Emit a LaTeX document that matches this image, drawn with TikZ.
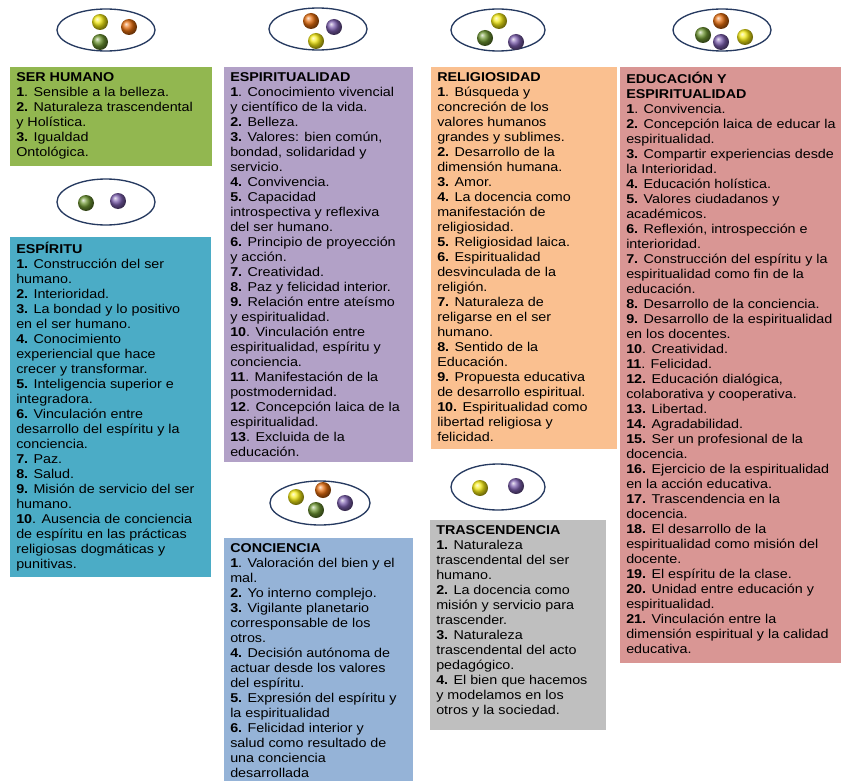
\documentclass[tikz,border=0pt]{standalone}
\usepackage{fontspec}
\setmainfont{Liberation Sans}[FakeStretch=1.12]
\definecolor{ovalline}{RGB}{38,58,96}
\definecolor{verde}{RGB}{146,183,80}
\definecolor{turquesa}{RGB}{75,172,198}
\definecolor{lila}{RGB}{178,161,199}
\definecolor{durazno}{RGB}{250,192,144}
\definecolor{rosa}{RGB}{217,150,148}
\definecolor{celeste}{RGB}{149,179,215}
\definecolor{gris}{RGB}{191,191,191}
\definecolor{bola1}{RGB}{245,235,20}
\definecolor{bola2}{RGB}{230,110,15}
\definecolor{bola3}{RGB}{110,150,50}
\definecolor{bola4}{RGB}{125,95,175}
\begin{document}
\begin{tikzpicture}[x=0.75pt,y=-0.75pt,
  txt/.style={anchor=north west,align=left,inner sep=0pt,
    font=\fontsize{9.6}{11.25}\selectfont},
  oval/.style={draw=ovalline,line width=1pt,fill=white}]
\useasboundingbox (0,0) rectangle (841,781);
\draw [oval] (106,30) ellipse (49 and 21);
\shade [ball color=bola1] (100,22) circle (8);
\shade [ball color=bola2] (129,27) circle (8);
\shade [ball color=bola3] (100,42) circle (8);
\draw [oval] (318,29) ellipse (49 and 21);
\shade [ball color=bola2] (311,21) circle (8);
\shade [ball color=bola4] (334,27) circle (8);
\shade [ball color=bola1] (316,41) circle (8);
\draw [oval] (498,30) ellipse (47 and 21);
\shade [ball color=bola1] (499,21) circle (8);
\shade [ball color=bola3] (485,38) circle (8);
\shade [ball color=bola4] (516,42) circle (8);
\draw [oval] (722,30) ellipse (49 and 21);
\shade [ball color=bola2] (721,21) circle (8);
\shade [ball color=bola3] (703,35) circle (8);
\shade [ball color=bola4] (721,42) circle (8);
\shade [ball color=bola1] (745,37) circle (8);
\draw [oval] (106,202) ellipse (49 and 23);
\shade [ball color=bola3] (86,203) circle (8);
\shade [ball color=bola4] (118,201) circle (8);
\draw [oval] (320,503) ellipse (50 and 22);
\shade [ball color=bola1] (296,497) circle (8);
\shade [ball color=bola2] (323,490) circle (8);
\shade [ball color=bola3] (316,510) circle (8);
\shade [ball color=bola4] (345,503) circle (8);
\draw [oval] (498,487) ellipse (47 and 23);
\shade [ball color=bola1] (480,488) circle (8);
\shade [ball color=bola4] (516,486) circle (8);
\fill [verde] (10,67) rectangle (212,166);
\node [txt] (serhumano) at (16,72) {\textbf{SER HUMANO}\\
\textbf{1}. Sensible a la belleza.\\
\textbf{2.} Naturaleza trascendental\\
y Holística.\\
\textbf{3.} Igualdad\\
Ontológica.};
\fill [turquesa] (10,237) rectangle (211,577);
\node [txt] (espiritu) at (16,242) {\textbf{ESPÍRITU}\\
\textbf{1.} Construcción del ser\\
humano.\\
\textbf{2.} Interioridad.\\
\textbf{3.} La bondad y lo positivo\\
en el ser humano.\\
\textbf{4.} Conocimiento\\
experiencial que hace\\
crecer y transformar.\\
\textbf{5.} Inteligencia superior e\\
integradora.\\
\textbf{6.} Vinculación entre\\
desarrollo del espíritu y la\\
conciencia.\\
\textbf{7.} Paz.\\
\textbf{8.} Salud.\\
\textbf{9.} Misión de servicio del ser\\
humano.\\
\textbf{10}. Ausencia de conciencia\\
de espíritu en las prácticas\\
religiosas dogmáticas y\\
punitivas.};
\fill [lila] (224,67) rectangle (413,462);
\node [txt] (espiritualidad) at (230,72) {\textbf{ESPIRITUALIDAD}\\
\textbf{1}. Conocimiento vivencial\\
y científico de la vida.\\
\textbf{2.} Belleza.\\
\textbf{3.} Valores: bien común,\\
bondad, solidaridad y\\
servicio.\\
\textbf{4.} Convivencia.\\
\textbf{5.} Capacidad\\
introspectiva y reflexiva\\
del ser humano.\\
\textbf{6.} Principio de proyección\\
y acción.\\
\textbf{7.} Creatividad.\\
\textbf{8.} Paz y felicidad interior.\\
\textbf{9.} Relación entre ateísmo\\
y espiritualidad.\\
\textbf{10}. Vinculación entre\\
espiritualidad, espíritu y\\
conciencia.\\
\textbf{11}. Manifestación de la\\
postmodernidad.\\
\textbf{12}. Concepción laica de la\\
espiritualidad.\\
\textbf{13}. Excluida de la\\
educación.};
\fill [durazno] (431,67) rectangle (617,449);
\node [txt] (religiosidad) at (437,72) {\textbf{RELIGIOSIDAD}\\
\textbf{1}. Búsqueda y\\
concreción de los\\
valores humanos\\
grandes y sublimes.\\
\textbf{2.} Desarrollo de la\\
dimensión humana.\\
\textbf{3.} Amor.\\
\textbf{4.} La docencia como\\
manifestación de\\
religiosidad.\\
\textbf{5.} Religiosidad laica.\\
\textbf{6.} Espiritualidad\\
desvinculada de la\\
religión.\\
\textbf{7.} Naturaleza de\\
religarse en el ser\\
humano.\\
\textbf{8.} Sentido de la\\
Educación.\\
\textbf{9.} Propuesta educativa\\
de desarrollo espiritual.\\
\textbf{10.} Espiritualidad como\\
libertad religiosa y\\
felicidad.};
\fill [rosa] (620,67) rectangle (841,663);
\node [txt] (educacion) at (626,72) {\textbf{EDUCACIÓN Y}\\
\textbf{ESPIRITUALIDAD}\\
\textbf{1}. Convivencia.\\
\textbf{2.} Concepción laica de educar la\\
espiritualidad.\\
\textbf{3.} Compartir experiencias desde\\
la Interioridad.\\
\textbf{4.} Educación holística.\\
\textbf{5.} Valores ciudadanos y\\
académicos.\\
\textbf{6.} Reflexión, introspección e\\
interioridad.\\
\textbf{7.} Construcción del espíritu y la\\
espiritualidad como fin de la\\
educación.\\
\textbf{8.} Desarrollo de la conciencia.\\
\textbf{9.} Desarrollo de la espiritualidad\\
en los docentes.\\
\textbf{10}. Creatividad.\\
\textbf{11}. Felicidad.\\
\textbf{12.} Educación dialógica,\\
colaborativa y cooperativa.\\
\textbf{13.} Libertad.\\
\textbf{14.} Agradabilidad.\\
\textbf{15.} Ser un profesional de la\\
docencia.\\
\textbf{16.} Ejercicio de la espiritualidad\\
en la acción educativa.\\
\textbf{17.} Trascendencia en la\\
docencia.\\
\textbf{18.} El desarrollo de la\\
espiritualidad como misión del\\
docente.\\
\textbf{19.} El espíritu de la clase.\\
\textbf{20.} Unidad entre educación y\\
espiritualidad.\\
\textbf{21.} Vinculación entre la\\
dimensión espiritual y la calidad\\
educativa.};
\fill [celeste] (224,538) rectangle (413,781);
\node [txt] (conciencia) at (230,543) {\textbf{CONCIENCIA}\\
\textbf{1}. Valoración del bien y el\\
mal.\\
\textbf{2.} Yo interno complejo.\\
\textbf{3.} Vigilante planetario\\
corresponsable de los\\
otros.\\
\textbf{4.} Decisión autónoma de\\
actuar desde los valores\\
del espíritu.\\
\textbf{5.} Expresión del espíritu y\\
la espiritualidad\\
\textbf{6.} Felicidad interior y\\
salud como resultado de\\
una conciencia\\
desarrollada};
\fill [gris] (430,520) rectangle (606,730);
\node [txt] (trascendencia) at (436,525) {\textbf{TRASCENDENCIA}\\
\textbf{1.} Naturaleza\\
trascendental del ser\\
humano.\\
\textbf{2.} La docencia como\\
misión y servicio para\\
trascender.\\
\textbf{3.} Naturaleza\\
trascendental del acto\\
pedagógico.\\
\textbf{4.} El bien que hacemos\\
y modelamos en los\\
otros y la sociedad.};
\end{tikzpicture}
\end{document}
